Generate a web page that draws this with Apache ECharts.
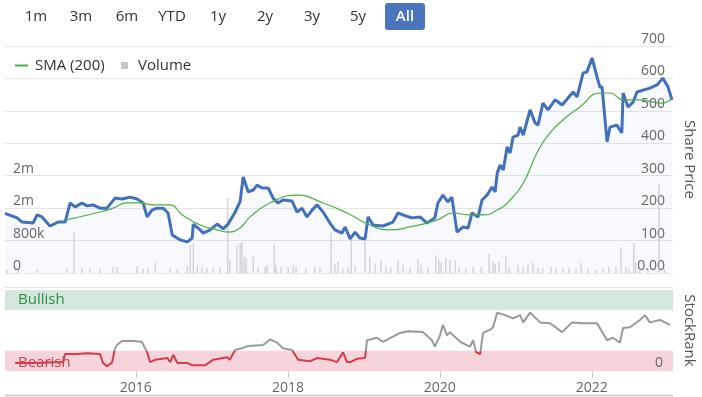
<!DOCTYPE html>
<html>
<head>
<meta charset="utf-8">
<script src="https://cdn.jsdelivr.net/npm/echarts@6/dist/echarts.min.js"></script>
<style>
  html, body { margin: 0; padding: 0; background: #fff; }
  #main { width: 702px; height: 397px; }
</style>
</head>
<body>
<div id="main"></div>
<script>
// range buttons across the top
var rangeButtons = ['1m', '3m', '6m', 'YTD', '1y', '2y', '3y', '5y', 'All']
// year ticks on the StockRank panel
var yearTicks = ['2016-01-01', '2018-01-01', '2020-01-01', '2022-01-01']
var xMin = '2014-04-12'
var xMax = '2023-01-26'

// share price
var priceDates = ['2014-04-12', '2014-06-09', '2014-07-03', '2014-08-25', '2014-09-13', '2014-10-07', '2014-11-14', '2014-12-23',
  '2015-01-26', '2015-02-19', '2015-03-15', '2015-04-17', '2015-05-11', '2015-06-09', '2015-07-13', '2015-08-15', '2015-09-23',
  '2015-10-27', '2015-12-04', '2016-01-07', '2016-02-05', '2016-02-24', '2016-03-18', '2016-04-12', '2016-05-11', '2016-06-04',
  '2016-06-24', '2016-08-01', '2016-09-04', '2016-09-28', '2016-10-03', '2016-11-05', '2016-11-20', '2016-12-23', '2017-01-26',
  '2017-02-24', '2017-03-18', '2017-04-20', '2017-05-16', '2017-05-31', '2017-06-24', '2017-07-18', '2017-08-06', '2017-08-30',
  '2017-09-28', '2017-10-22', '2017-11-14', '2017-12-08', '2018-01-21', '2018-02-14', '2018-03-10', '2018-04-03', '2018-04-27',
  '2018-05-21', '2018-06-19', '2018-07-22', '2018-08-15', '2018-09-18', '2018-10-03', '2018-10-27', '2018-11-20', '2018-12-13',
  '2019-01-07', '2019-01-21', '2019-02-14', '2019-04-03', '2019-05-21', '2019-06-14', '2019-07-08', '2019-08-20', '2019-09-28',
  '2019-11-01', '2019-12-08', '2019-12-23', '2020-01-16', '2020-02-09', '2020-02-28', '2020-03-24', '2020-04-22', '2020-05-16',
  '2020-06-04', '2020-07-03', '2020-07-22', '2020-08-15', '2020-09-08', '2020-09-23', '2020-10-03', '2020-10-17', '2020-11-01',
  '2020-11-20', '2020-12-04', '2020-12-18', '2021-01-11', '2021-01-21', '2021-02-05', '2021-03-10', '2021-04-03', '2021-04-17',
  '2021-05-11', '2021-06-04', '2021-07-08', '2021-08-11', '2021-10-03', '2021-10-22', '2021-11-20', '2021-12-08', '2022-01-02',
  '2022-01-26', '2022-02-09', '2022-02-19', '2022-03-15', '2022-03-29', '2022-05-01', '2022-05-25', '2022-05-31', '2022-06-24',
  '2022-07-18', '2022-08-06', '2022-09-04', '2022-10-07', '2022-11-10', '2022-12-08', '2023-01-02', '2023-01-21']
var priceValues = [184, 170, 157, 154, 179, 173, 145, 157,
  157, 216, 204, 216, 207, 210, 200, 200, 231,
  228, 234, 228, 216, 173, 194, 200, 200, 185,
  117, 102, 96, 108, 151, 133, 123, 133, 151,
  136, 150, 185, 220, 296, 250, 256, 271, 262,
  262, 231, 216, 225, 222, 188, 200, 173, 194,
  210, 188, 154, 133, 123, 142, 105, 126, 108,
  105, 173, 148, 145, 157, 185, 179, 170, 173,
  154, 170, 216, 240, 219, 234, 126, 142, 139,
  185, 173, 225, 240, 265, 250, 308, 333, 318,
  389, 370, 419, 425, 450, 425, 503, 463, 456,
  524, 503, 534, 518, 558, 543, 617, 620, 663,
  604, 573, 574, 404, 450, 456, 432, 555, 512,
  527, 558, 564, 570, 580, 601, 574, 534]

// 200 day moving average
var smaDates = ['2015-01-26', '2015-07-13', '2015-09-13', '2015-11-20', '2016-01-21', '2016-03-24', '2016-06-14', '2016-08-11',
  '2016-11-05', '2017-01-26', '2017-03-18', '2017-05-16', '2017-07-03', '2017-10-07', '2018-02-14', '2018-06-19', '2018-10-12',
  '2019-01-30', '2019-05-06', '2019-08-11', '2019-12-18', '2020-03-05', '2020-05-25', '2020-07-27', '2020-10-03', '2020-12-04',
  '2021-02-05', '2021-04-12', '2021-06-14', '2021-08-15', '2021-11-05', '2022-02-09', '2022-03-29', '2022-05-31', '2022-08-20',
  '2022-10-22', '2022-12-08', '2023-01-21']
var smaValues = [163, 188, 200, 216, 216, 210, 210, 179,
  148, 133, 126, 139, 173, 216, 240, 216, 185,
  148, 133, 142, 163, 185, 179, 179, 194, 225,
  277, 370, 432, 472, 512, 555, 555, 534, 534,
  527, 524, 540]

// daily volume (sampled)
var volumeDates = ['2014-04-22', '2014-06-14', '2014-09-13', '2015-02-05', '2015-03-10', '2015-04-17', '2015-05-26', '2015-07-13',
  '2015-09-13', '2015-10-03', '2016-01-07', '2016-02-05', '2016-02-28', '2016-04-03', '2016-06-14', '2016-07-18', '2016-09-04',
  '2016-09-18', '2016-10-03', '2016-10-22', '2016-11-14', '2016-12-08', '2017-01-07', '2017-02-09', '2017-03-18', '2017-03-28',
  '2017-05-01', '2017-05-16', '2017-05-25', '2017-06-04', '2017-06-14', '2017-07-18', '2017-08-11', '2017-09-13', '2017-09-23',
  '2017-10-27', '2017-11-05', '2017-11-29', '2018-01-02', '2018-01-26', '2018-02-09', '2018-03-28', '2018-05-11', '2018-06-04',
  '2018-07-27', '2018-08-15', '2018-08-30', '2018-09-23', '2018-10-17', '2018-11-01', '2018-11-20', '2019-01-07', '2019-01-30',
  '2019-02-24', '2019-03-24', '2019-04-17', '2019-05-11', '2019-06-14', '2019-07-08', '2019-08-11', '2019-09-18', '2019-10-03',
  '2019-11-05', '2019-12-13', '2019-12-28', '2020-01-07', '2020-01-30', '2020-02-19', '2020-03-15', '2020-04-03', '2020-05-06',
  '2020-06-09', '2020-07-18', '2020-08-25', '2020-09-13', '2020-09-23', '2020-10-12', '2020-11-14', '2020-11-29', '2021-01-11',
  '2021-02-05', '2021-02-28', '2021-03-24', '2021-04-17', '2021-05-11', '2021-06-19', '2021-07-13', '2021-08-15', '2021-09-13',
  '2021-10-17', '2021-11-10', '2021-12-13', '2022-01-21', '2022-02-24', '2022-03-24', '2022-04-27', '2022-05-21', '2022-06-14',
  '2022-06-29', '2022-07-22', '2022-08-01', '2022-08-20', '2022-09-28', '2022-11-20', '2022-12-18']
var volumeValues = [75000, 75000, 75000, 100000, 1000000, 150000, 100000, 100000,
  150000, 150000, 175000, 100000, 125000, 250000, 125000, 100000, 175000,
  690000, 740000, 175000, 150000, 125000, 125000, 150000, 1850000, 320000,
  690000, 740000, 770000, 400000, 370000, 400000, 150000, 150000, 200000,
  690000, 200000, 150000, 150000, 200000, 160000, 110000, 160000, 150000,
  990000, 230000, 280000, 110000, 150000, 820000, 170000, 770000, 400000,
  230000, 320000, 170000, 150000, 320000, 200000, 150000, 350000, 200000,
  150000, 440000, 320000, 250000, 370000, 320000, 300000, 150000, 100000,
  150000, 150000, 470000, 280000, 230000, 280000, 400000, 150000, 200000,
  150000, 200000, 250000, 110000, 110000, 160000, 120000, 110000, 120000,
  110000, 250000, 100000, 75000, 100000, 150000, 150000, 620000, 150000,
  110000, 740000, 250000, 100000, 100000, 2200000, 100000]

// StockRank
var rankDates = ['2014-05-31', '2014-08-25', '2015-01-16', '2015-01-26', '2015-03-24', '2015-05-11', '2015-07-13', '2015-07-27',
  '2015-08-15', '2015-09-08', '2015-09-23', '2015-10-03', '2015-10-27', '2015-12-18', '2016-01-30', '2016-02-24', '2016-03-10',
  '2016-04-03', '2016-05-31', '2016-06-14', '2016-06-29', '2016-07-18', '2016-09-04', '2016-09-28', '2016-11-29', '2017-01-07',
  '2017-03-15', '2017-03-28', '2017-04-22', '2017-05-25', '2017-06-24', '2017-09-04', '2017-10-07', '2017-11-10', '2017-12-08',
  '2018-01-21', '2018-02-19', '2018-04-17', '2018-05-21', '2018-07-22', '2018-08-25', '2018-09-23', '2018-10-12', '2018-10-27',
  '2018-11-29', '2019-01-07', '2019-01-16', '2019-03-05', '2019-04-03', '2019-06-24', '2019-08-01', '2019-10-12', '2019-11-24',
  '2019-12-08', '2020-01-02', '2020-01-16', '2020-02-05', '2020-02-19', '2020-04-08', '2020-05-25', '2020-06-09', '2020-06-24',
  '2020-07-13', '2020-07-27', '2020-08-30', '2020-09-13', '2020-10-03', '2020-11-10', '2020-12-18', '2021-01-21', '2021-02-05',
  '2021-03-10', '2021-04-27', '2021-06-14', '2021-08-11', '2021-09-28', '2021-11-20', '2022-01-26', '2022-03-15', '2022-04-12',
  '2022-05-16', '2022-05-31', '2022-07-03', '2022-08-20', '2022-09-13', '2022-10-07', '2022-11-24', '2023-01-11']
var rankValues = [10, 10, 11, 21, 21, 22, 21, 10,
  6, 10, 28, 32, 37, 37, 36, 23, 11,
  14, 16, 11, 20, 10, 10, 7, 7, 14,
  17, 14, 26, 28, 31, 32, 39, 35, 28,
  26, 14, 12, 16, 14, 11, 23, 11, 11,
  15, 16, 38, 41, 36, 47, 49, 48, 38,
  30, 44, 57, 44, 48, 36, 30, 38, 23,
  21, 47, 51, 54, 72, 69, 65, 69, 60,
  72, 60, 59, 48, 60, 59, 59, 38, 41,
  35, 53, 54, 63, 69, 60, 63, 57]

function ts (d) {
  return +echarts.time.parse(d)
}
function zip (dates, values) {
  return dates.map(function (d, i) { return [ts(d), values[i]] })
}

var fontFamily = '"Open Sans", sans-serif'
var chart = echarts.init(document.getElementById('main'))

// 顶部按钮
var buttonX = [36, 81, 127, 172, 218, 265, 312, 358, 405]
var graphics = [
  { type: 'rect', left: 385, top: 3, shape: { width: 40, height: 27, r: 3 }, style: { fill: '#4a74bd' } },
  { type: 'line', shape: { x1: 5, y1: 287.5, x2: 673, y2: 287.5 }, style: { stroke: '#e4e4e4', lineWidth: 1 } },
  { type: 'line', shape: { x1: 5, y1: 395.5, x2: 673, y2: 395.5 }, style: { stroke: '#d2d2d2', lineWidth: 2 } }
]
rangeButtons.forEach(function (b, i) {
  graphics.push({
    type: 'text',
    x: buttonX[i],
    y: 17,
    style: {
      text: b,
      fill: b === 'All' ? '#fff' : '#333',
      font: (b === 'All' ? '600 ' : '') + '15px ' + fontFamily,
      textAlign: 'center',
      textVerticalAlign: 'middle'
    }
  })
})

var tickValues = yearTicks.map(ts)

chart.setOption({
  animation: false,
  textStyle: { fontFamily: fontFamily },
  graphic: graphics,
  legend: [
    {
      left: 10,
      top: 53,
      data: ['SMA (200)'],
      itemWidth: 13,
      itemHeight: 2,
      icon: 'rect',
      textStyle: { fontSize: 15, color: '#333', padding: [0, 0, 0, 2] }
    },
    {
      left: 116,
      top: 53,
      data: ['Volume'],
      itemWidth: 7,
      itemHeight: 7,
      icon: 'rect',
      textStyle: { fontSize: 15, color: '#333', padding: [0, 0, 0, 5] }
    }
  ],
  grid: [
    { left: 5, right: 29, top: 46, height: 227, containLabel: false, outerBoundsMode: 'none' },
    { left: 5, right: 29, top: 290, height: 81, containLabel: false, outerBoundsMode: 'none' }
  ],
  xAxis: [
    { type: 'value', gridIndex: 0, min: ts(xMin), max: ts(xMax), show: false },
    {
      type: 'value',
      gridIndex: 1,
      min: ts(xMin),
      max: ts(xMax),
      axisLine: { show: false },
      splitLine: { show: false },
      axisTick: { show: true, customValues: tickValues, length: 7, lineStyle: { color: '#ccc' } },
      axisLabel: {
        customValues: tickValues,
        color: '#666',
        fontSize: 14,
        margin: 10,
        formatter: function (v) { return String(new Date(v).getFullYear()) }
      }
    }
  ],
  yAxis: [
    {
      type: 'value',
      gridIndex: 0,
      position: 'right',
      min: 0,
      max: 700,
      interval: 100,
      name: 'Share Price',
      nameLocation: 'middle',
      nameRotate: -90,
      nameGap: 9,
      nameTextStyle: { fontSize: 15, color: '#555' },
      axisLine: { show: false },
      axisTick: { show: false },
      axisLabel: {
        inside: true,
        verticalAlign: 'bottom',
        color: '#666',
        fontSize: 14,
        formatter: function (v) { return v === 0 ? '0.00' : String(v) }
      },
      splitLine: { lineStyle: { color: '#e6e6e6' } }
    },
    {
      type: 'value',
      gridIndex: 0,
      position: 'left',
      min: 0,
      max: 5600000,
      interval: 800000,
      axisLine: { show: false },
      axisTick: { show: false },
      splitLine: { show: false },
      axisLabel: {
        inside: true,
        verticalAlign: 'bottom',
        color: '#666',
        fontSize: 14,
        formatter: function (v) {
          if (v === 0) return '0'
          if (v > 2400000) return ''
          if (v < 1000000) return v / 1000 + 'k'
          return Math.round(v / 1000000) + 'm'
        }
      }
    },
    {
      type: 'value',
      gridIndex: 1,
      position: 'right',
      min: 0,
      max: 100,
      interval: 25,
      z: 10,
      name: 'StockRank',
      nameLocation: 'middle',
      nameRotate: -90,
      nameGap: 9,
      nameTextStyle: { fontSize: 15, color: '#555' },
      axisLine: { show: false },
      axisTick: { show: false },
      splitLine: { show: false },
      axisLabel: {
        inside: true,
        showMinLabel: true,
        verticalAlign: 'bottom',
        padding: [0, 2, 1, 0],
        color: '#666',
        fontSize: 14,
        formatter: function (v) { return v === 0 ? '0' : '' }
      }
    }
  ],
  visualMap: {
    type: 'piecewise',
    show: false,
    seriesIndex: 3,
    dimension: 1,
    pieces: [
      { min: 0, max: 25, color: '#d23c4d' },
      { min: 25, max: 100, color: '#999999' }
    ]
  },
  series: [
    {
      name: 'Volume',
      type: 'bar',
      xAxisIndex: 0,
      yAxisIndex: 1,
      barWidth: 1,
      itemStyle: { color: '#c5c6cc' },
      z: 2,
      data: zip(volumeDates, volumeValues)
    },
    {
      name: 'Share Price',
      type: 'line',
      xAxisIndex: 0,
      yAxisIndex: 0,
      symbol: 'none',
      z: 4,
      lineStyle: { color: '#4270bd', width: 3 },
      itemStyle: { color: '#4270bd' },
      areaStyle: { color: 'rgba(66,112,189,0.06)' },
      data: zip(priceDates, priceValues)
    },
    {
      name: 'SMA (200)',
      type: 'line',
      xAxisIndex: 0,
      yAxisIndex: 0,
      symbol: 'none',
      smooth: true,
      z: 5,
      lineStyle: { color: '#4caf43', width: 1.2 },
      itemStyle: { color: '#4caf43' },
      data: zip(smaDates, smaValues)
    },
    {
      name: 'StockRank',
      type: 'line',
      xAxisIndex: 1,
      yAxisIndex: 2,
      symbol: 'none',
      z: 4,
      lineStyle: { width: 2 },
      markArea: {
        silent: true,
        data: [
          [
            {
              yAxis: 75,
              itemStyle: { color: '#d3e8db' },
              label: { show: true, position: 'insideLeft', distance: 13, formatter: 'Bullish', color: '#2e8b50', fontSize: 15 }
            },
            { yAxis: 100 }
          ],
          [
            {
              yAxis: 0,
              itemStyle: { color: '#f5d5d9' },
              label: { show: true, position: 'insideLeft', distance: 13, formatter: 'Bearish', color: '#d23c4d', fontSize: 15, offset: [0, 2] }
            },
            { yAxis: 25 }
          ]
        ]
      },
      data: zip(rankDates, rankValues)
    }
  ]
})
</script>
</body>
</html>
